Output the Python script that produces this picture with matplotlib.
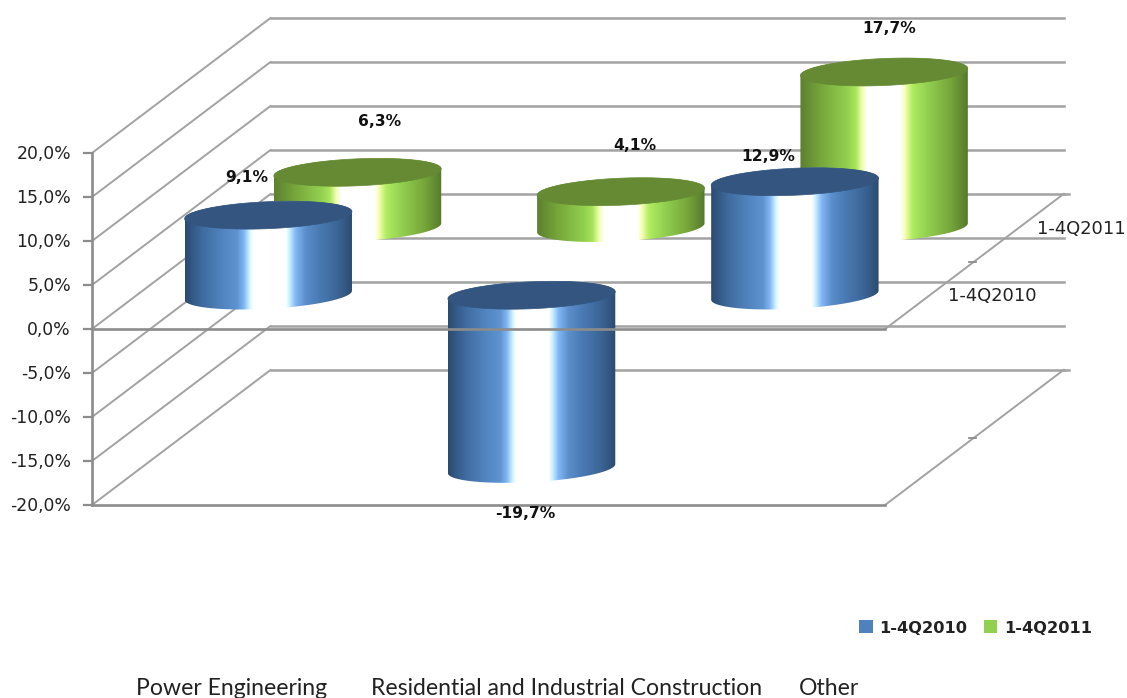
import numpy as np
import matplotlib
matplotlib.use('Agg')
import matplotlib.pyplot as plt
from matplotlib.colors import LinearSegmentedColormap
from matplotlib.patches import Patch, Polygon

# %% data
categories = ['Power Engineering', 'Residential and Industrial Construction', 'Other']
series_names = ['1-4Q2010', '1-4Q2011']
values_2010 = [9.1, -19.7, 12.9]
values_2011 = [6.3, 4.1, 17.7]
ticks = [20, 15, 10, 5, 0, -5, -10, -15, -20]

# %% look of the chart
GRID = '#a2a2a2'
AXIS = '#8c8c8c'
blue_stops = [(0, '#2b4a70'), (.10, '#3f6b9f'), (.24, '#5488c4'), (.31, '#5f93d0'), (.35, '#80b6f4'),
              (.385, '#d0f4ff'), (.405, '#ffffff'), (.60, '#ffffff'), (.62, '#d0f4ff'), (.66, '#80b6f4'),
              (.72, '#5a8ecb'), (.80, '#4a7ab4'), (.92, '#3a6393'), (1, '#2b4a70')]
green_stops = [(0, '#5c8030'), (.12, '#76a53a'), (.28, '#92d050'), (.33, '#a8e45a'), (.37, '#f0ffb0'),
               (.40, '#ffffff'), (.60, '#ffffff'), (.625, '#f6ffb0'), (.67, '#b0ec60'), (.76, '#92d050'),
               (.90, '#76a53a'), (1, '#557a2b')]


def project(cat, value, depth=0.0):
    # 3d chart position -> picture pixels (oblique projection)
    return 92 + 263.3 * cat + 178.5 * depth, 329 - 8.8 * value - 135 * depth


def ellipse(cx, cy, t0=0, t1=2 * np.pi, a=83.7, b=13.5, tilt=3.5):
    t = np.linspace(t0, t1, 80)
    return np.c_[cx + a * np.cos(t), cy + b * np.sin(t) - tilt * np.cos(t)]


def cylinder(ax, cat, value, depth, stops, cap, z):
    cx, y0 = project(cat, 0, depth)
    _, y1 = project(cat, value, depth)
    top, bottom = min(y0, y1), max(y0, y1)
    # body: back arc of upper rim + front arc of lower rim
    body = np.r_[ellipse(cx, top, np.pi, 2 * np.pi), ellipse(cx, bottom, 0, np.pi, tilt=4.5)]
    cmap = LinearSegmentedColormap.from_list('c', stops, N=256)
    grad = np.linspace(0, 1, 256)[None, :]
    im = ax.imshow(grad, cmap=cmap, aspect='auto', zorder=z, interpolation='bilinear',
                   extent=[cx - 83.7, cx + 83.7, bottom + 20, top - 20])
    clip = Polygon(body, closed=True, transform=ax.transData, fc='none', ec='none')
    ax.add_patch(clip)
    im.set_clip_path(clip)
    ax.add_patch(Polygon(ellipse(cx, top), closed=True, fc=cap, ec=cap, lw=0.5, zorder=z + 0.1))


fig = plt.figure(figsize=(11.27, 6.98), dpi=100)
ax = fig.add_axes([0, 0, 1, 1])

# %% walls and grid
for t in ticks:
    x0, y0 = project(0, t)
    x1, y1 = project(0, t, 1)
    xe, _ = project(3.012, t, 1)
    ax.plot([x0 - 8, x0], [y0, y0], color=AXIS, lw=1.6, zorder=1)
    ax.plot([x0, x1], [y0, y1], color=GRID, lw=1.4, zorder=1)
    ax.plot([x1, xe], [y1, y1], color=GRID, lw=1.8, zorder=1)
    ax.text(x0 - 21, y0 + 1, '{0:.1f}%'.format(t).replace('.', ','), ha='right', va='center',
            fontsize=12.4, family='DejaVu Sans', color='#222222')

ax.plot([project(0, 20)[0]] * 2, [project(0, 20)[1], project(0, -20)[1]], color=AXIS, lw=1.9, zorder=1)

for t in (0, -20):
    xa, ya = project(3.012, t)
    xb, yb = project(3.012, t, 1)
    ax.plot([xa, xb], [ya, yb], color=GRID, lw=1.4, zorder=1)
    ax.plot([xb, xb + 5], [yb, yb], color=GRID, lw=1.8, zorder=1)
    xm, ym = project(3.012, t, 0.5)
    ax.plot([xm - 5, xm + 2], [ym, ym], color=AXIS, lw=1.3, zorder=1)
    ax.plot([project(0, t)[0], xa], [ya, ya], color=AXIS, lw=1.9, zorder=6 if t == 0 else 1)

# %% cylinders, back row first
for i, v in enumerate(values_2011):
    cylinder(ax, i + 0.5, v, 0.75, green_stops, '#658a33', 2)
for i, v in enumerate(values_2010):
    cylinder(ax, i + 0.5, v, 0.25, blue_stops, '#33557f', 4)

# %% value labels (pixel offsets from the top or bottom of each cylinder)
offsets_2010 = [(-22, -39), (-6, 44), (-27, -26)]
offsets_2011 = [(22, -52), (14, -47), (5, -44)]
for vals, offs, depth in ((values_2010, offsets_2010, 0.25), (values_2011, offsets_2011, 0.75)):
    for i, (v, off) in enumerate(zip(vals, offs)):
        x, y = project(i + 0.5, v, depth)
        ax.text(x + off[0], y + off[1] + 1, '{0:.1f}%'.format(v).replace('.', ','), ha='center', va='center',
                fontsize=11.2, fontweight='bold', family='DejaVu Sans', color='#111111', zorder=8)

# %% series names on the depth axis
for name, depth in zip(series_names, (0.25, 0.75)):
    x, y = project(3.012, 0, depth)
    ax.text(x + 18, y + 1, name, ha='left', va='center', fontsize=12.9, family='DejaVu Sans', color='#222222')

# %% categories, cut by the bottom edge like in the picture
for name, x in zip(categories, (136, 371, 799)):
    ax.text(x, 695, name, ha='left', va='baseline', fontsize=16.6, family='Lato', color='#222222')

# %% legend
handles = [Patch(fc='#4f81bd', ec='none', label=series_names[0]), Patch(fc='#92d050', ec='none', label=series_names[1])]
ax.legend(handles=handles, loc='center', bbox_to_anchor=(975.5 / 1127, 1 - 628 / 698), ncol=2, frameon=False,
          handlelength=0.85, handleheight=0.85, handletextpad=0.4, columnspacing=1.0,
          prop={'family': 'DejaVu Sans', 'weight': 'bold', 'size': 11.7}, labelcolor='#222222')

ax.set_xlim(0, 1127)
ax.set_ylim(698, 0)
ax.axis('off')
plt.savefig('out.png', dpi=100)
